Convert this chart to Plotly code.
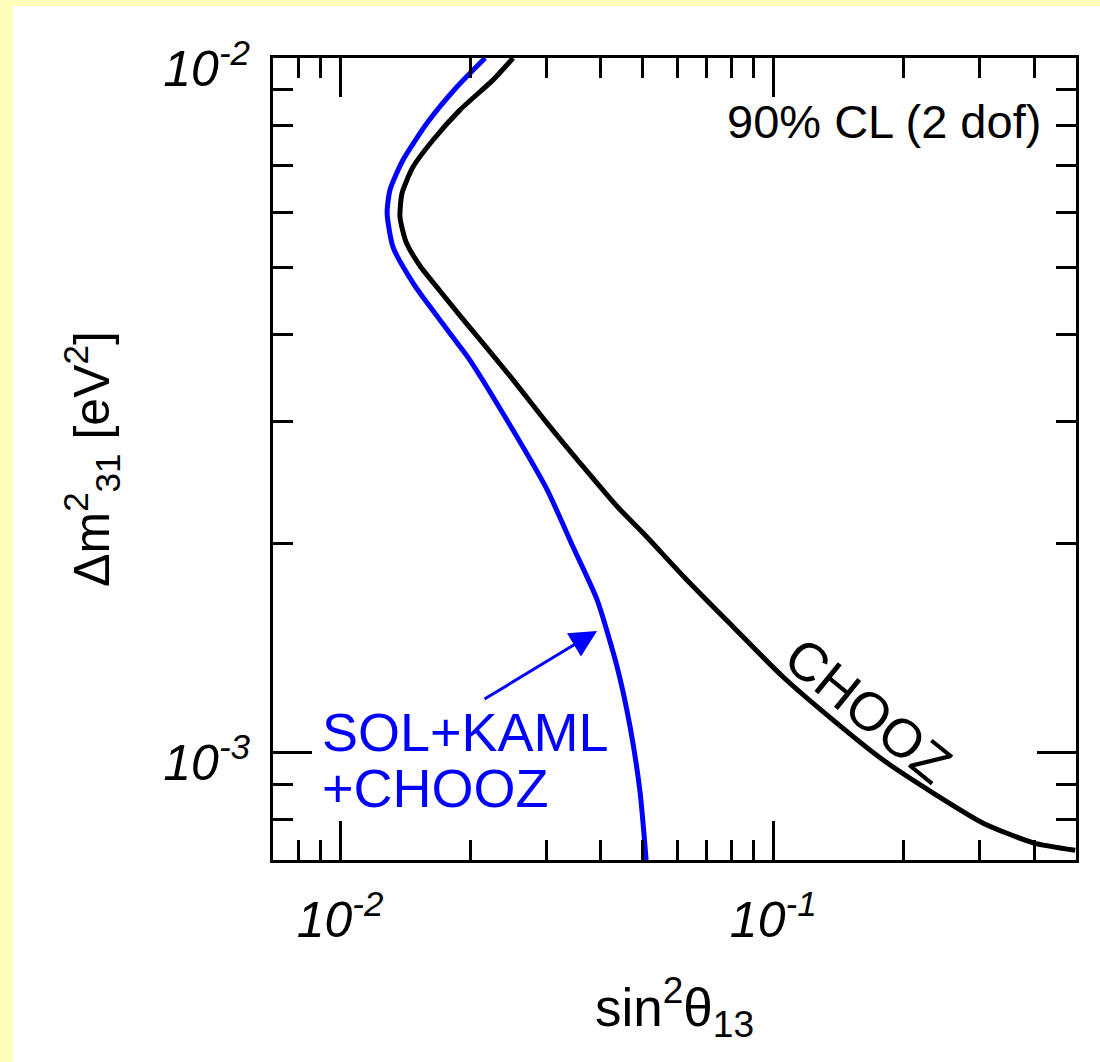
import math
import plotly.graph_objects as go

# ---- data ----
chooz_x = [0.02508, 0.02255, 0.01892, 0.01639, 0.01474, 0.01390, 0.01375, 0.01420, 0.01530,
           0.01701, 0.01912, 0.02162, 0.02508, 0.03005, 0.03582, 0.04362, 0.05008, 0.06327,
           0.08083, 0.1054, 0.1375, 0.1794, 0.2340, 0.3053, 0.3984, 0.498]
chooz_y = [0.01, 0.00930, 0.00842, 0.00762, 0.00697, 0.00639, 0.00590, 0.005433, 0.005017,
           0.004618, 0.004222, 0.003849, 0.00344, 0.00298, 0.00261, 0.00226, 0.00207, 0.00177,
           0.001516, 0.001284, 0.001113, 0.000975, 0.000874, 0.000791, 0.000741, 0.000723]

sol_x = [0.02162, 0.01862, 0.01588, 0.01397, 0.01304, 0.01284, 0.01325, 0.01474, 0.01563,
         0.01892, 0.01995, 0.02508, 0.03005, 0.03451, 0.03921, 0.04362, 0.04673, 0.04929, 0.05088]
sol_y = [0.01, 0.00909, 0.00806, 0.00713, 0.00646, 0.00598, 0.00534, 0.00474, 0.00450,
         0.00384, 0.00367, 0.00291, 0.00239, 0.001976, 0.001658, 0.001327, 0.001088, 0.000874, 0.0007]

x_range = [0.007, 0.5]
y_range = [0.0007, 0.01]
x_major = [0.01, 0.1]
x_major_text = ["10<sup>-2</sup>", "10<sup>-1</sup>"]
x_minor = [0.008, 0.009, 0.02, 0.03, 0.04, 0.05, 0.06, 0.07, 0.08, 0.09, 0.2, 0.3, 0.4]
y_major = [0.001, 0.01]
y_major_text = ["10<sup>-3</sup>", "10<sup>-2</sup>"]
y_minor = [0.0008, 0.0009, 0.002, 0.003, 0.004, 0.005, 0.006, 0.007, 0.008, 0.009]

# label / arrow anchor positions (data units)
arrow_head = (0.0392, 0.001496)
arrow_tail = (0.02138, 0.00119)
label_sol1 = (0.00899, 0.00107)
label_sol2 = (0.00899, 0.000889)
label_cl = (0.4201, 0.008114)
label_chooz = (0.1656, 0.001151)

FONT = "Liberation Sans, Arial, sans-serif"
BLUE = "#0000ff"
YELLOW = "#ffffbb"
L = math.log10

fig = go.Figure()
fig.add_trace(go.Scatter(x=chooz_x, y=chooz_y, mode="lines",
                         line=dict(color="black", width=5, shape="spline", smoothing=0.6),
                         showlegend=False, hoverinfo="skip"))
fig.add_trace(go.Scatter(x=sol_x, y=sol_y, mode="lines",
                         line=dict(color=BLUE, width=5, shape="spline", smoothing=0.6),
                         showlegend=False, hoverinfo="skip"))

axis_common = dict(
    type="log", showgrid=False, zeroline=False,
    showline=True, linewidth=3, linecolor="black", mirror="allticks",
    ticks="inside", ticklen=39, tickwidth=2.5, tickcolor="black",
    tickfont=dict(family=FONT, size=50, color="black", style="italic"),
    tickmode="array",
)

fig.update_xaxes(
    **axis_common,
    range=[L(x_range[0]), L(x_range[1])],
    tickvals=x_major, ticktext=x_major_text,
    minor=dict(tickmode="array", tickvals=x_minor, ticks="inside", ticklen=20,
               tickwidth=2.5, tickcolor="black", showgrid=False),
    ticklabelstandoff=14,
    title=dict(text="sin<sup>2</sup>θ<sub>13</sub>",
               font=dict(family=FONT, size=53, color="black"), standoff=42),
)
fig.update_yaxes(
    **axis_common,
    range=[L(y_range[0]), L(y_range[1])],
    tickvals=y_major, ticktext=y_major_text,
    minor=dict(tickmode="array", tickvals=y_minor, ticks="inside", ticklen=20,
               tickwidth=2.5, tickcolor="black", showgrid=False),
    ticklabelstandoff=10,
    ticklabelshift=10,
    title=dict(text="Δm<sup>2</sup><sub>31</sub> [eV<sup>2</sup>]",
               font=dict(family=FONT, size=50, color="black"), standoff=38),
)

annotations = [
    dict(x=L(arrow_head[0]), y=L(arrow_head[1]), ax=L(arrow_tail[0]), ay=L(arrow_tail[1]),
         xref="x", yref="y", axref="x", ayref="y", text="", showarrow=True,
         arrowhead=2, arrowsize=1.8, arrowwidth=3, arrowcolor=BLUE),
    dict(x=L(label_sol1[0]), y=L(label_sol1[1]), xref="x", yref="y", text="SOL+KAML",
         showarrow=False, xanchor="left", yanchor="middle",
         font=dict(family=FONT, size=54, color=BLUE)),
    dict(x=L(label_sol2[0]), y=L(label_sol2[1]), xref="x", yref="y", text="+CHOOZ",
         showarrow=False, xanchor="left", yanchor="middle",
         font=dict(family=FONT, size=54, color=BLUE)),
    dict(x=L(label_cl[0]), y=L(label_cl[1]), xref="x", yref="y", text="90% CL (2 dof)",
         showarrow=False, xanchor="right", yanchor="middle",
         font=dict(family=FONT, size=47, color="black")),
    dict(x=L(label_chooz[0]), y=L(label_chooz[1]), xref="x", yref="y", text="CHOOZ",
         showarrow=False, xanchor="center", yanchor="middle", textangle=39,
         font=dict(family=FONT, size=54, color="black")),
]

W, H = 1100, 1062
ml, mr, mt, mb = 273, 24, 58, 202
pw, ph = W - ml - mr, H - mt - mb

# yellow page border strips on the left and top edges
shapes = [
    dict(type="rect", xref="paper", yref="paper", layer="below",
         x0=-(ml + 2) / pw, x1=(13 - ml) / pw, y0=-(mb + 2) / ph, y1=1 + (mt + 2) / ph,
         fillcolor=YELLOW, line=dict(width=0)),
    dict(type="rect", xref="paper", yref="paper", layer="below",
         x0=-(ml + 2) / pw, x1=(W + 2 - ml) / pw, y0=1 + (mt - 6) / ph, y1=1 + (mt + 2) / ph,
         fillcolor=YELLOW, line=dict(width=0)),
]

fig.update_layout(
    width=W, height=H,
    margin=dict(l=ml, r=mr, t=mt, b=mb, pad=0),
    paper_bgcolor="white", plot_bgcolor="white",
    annotations=annotations, shapes=shapes,
    showlegend=False,
    font=dict(family=FONT, color="black"),
)

fig.write_html("out.html", config={"displayModeBar": False},
               post_script="document.body.style.margin='0';document.body.style.padding='0';")
